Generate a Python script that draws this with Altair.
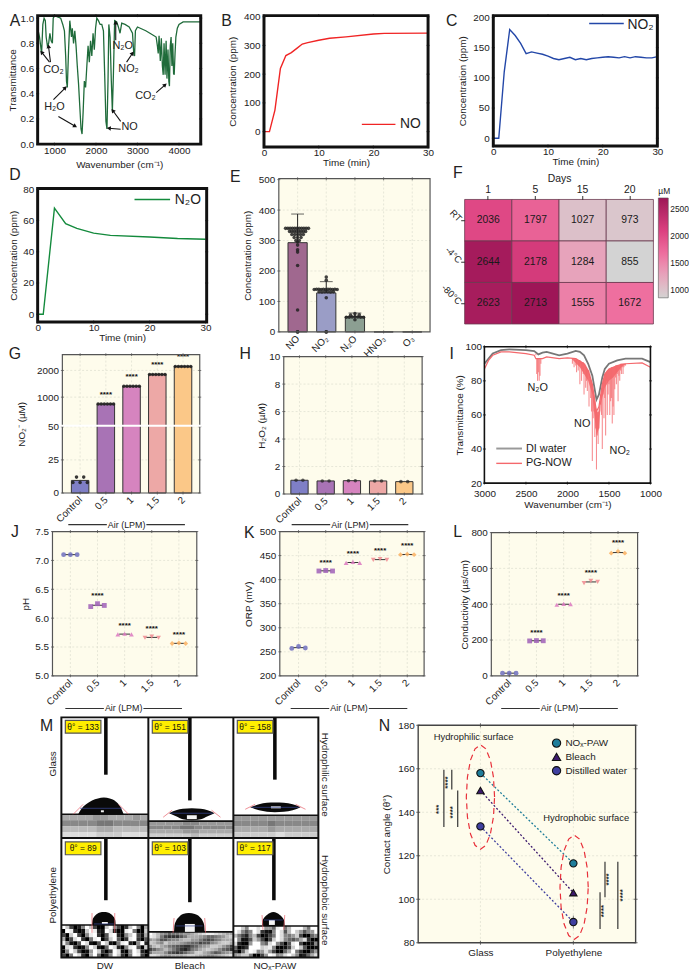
import altair as alt

W, H = 689, 972
FONT = "Liberation Sans"
INK = "#222222"
CREAM = "#FEFCEC"
GRID = "#DCDDCF"
CAT = ["#7F7FC6", "#A873B5", "#D684BF", "#EDA8A6", "#FBC888"]
DARK = ["#6F6FBE", "#A060B8", "#DC78C0", "#F08A90", "#FBB060"]
SHAPES = ["circle", "square", "triangle-up", "triangle-down", "diamond"]

# ---- A spectrum
a_wn = [595,640,690,720,750,780,800,830,860,890,920,950,970,1000,1150,1200,1240,1270,1290,1310,1340,1370,1410,1430,1460,1490,1520,1550,1580,1610,1640,1665,1690,1720,1750,1780,1810,1840,1870,1900,1930,1960,1990,2020,2060,2100,2140,2180,2210,2240,2265,2290,2310,2340,2370,2395,2420,2450,2500,2540,2580,2620,2700,2800,2880,2910,2930,2950,3000,3200,3350,3450,3480,3500,3520,3550,3575,3600,3620,3640,3665,3690,3710,3735,3755,3770,3790,3810,3830,3850,3870,3885,3905,3925,3960,4000,4100,4300,4524]
a_tr = [.92,.85,.72,.95,1.0,.98,.85,.78,.80,.88,.82,.80,1.0,1.02,1.0,.95,.90,.70,.50,.45,.75,.98,.85,.92,.80,.90,.78,.62,.48,.30,.12,.08,.25,.50,.45,.62,.78,.65,.82,.70,.88,.75,.92,1.0,.98,.95,.95,.90,.55,.18,.12,.50,.95,.85,.50,.26,.55,.98,.97,.93,.88,.96,.95,.93,.88,.72,.70,.90,.93,.90,.87,.85,.78,.72,.86,.66,.84,.62,.55,.80,.55,.82,.52,.75,.50,.46,.78,.85,.62,.80,.56,.55,.72,.85,.92,.95,.97,.97,.97]
# ---- B, C, D time courses
b_t = [0,1,2,3,4,5,6,7,8,10,12,15,20,22,30]
b_no = [0,0,75,220,265,275,290,305,310,318,325,330,340,342,343]
c_t = list(range(31))
c_no2 = [0,0,110,180,170,157,140,143,141,139,136,132,130,132,134,130,132,130,132,133,134,135,134,133,135,133,135,134,133,133,135]
d_t = [0,1,3,5,7,10,13,20,25,30]
d_n2o = [0,0,68,58,55,52,50.5,49.5,48.5,48]
# ---- E
e_names = ["NO", "NO₂", "N₂O", "HNO₃", "O₃"]
e_vals = [293, 128, 50, 0, 0]
e_hi = [387, 165, 62, 0, 0]
e_cols = ["#A0688F", "#9A9DC6", "#8C9F92", "#8C9F92", "#8C9F92"]
e_dx = [-.42,-.34,-.26,-.18,-.1,-.02,.06,.14,.22,.3,.38,-.28,-.2,-.12,-.04,.04,.12,.2,.28,-.2,-.1,0,.1,.2,-.12,0,.12,-.06,.06,0,0,0,0,0,0,0,0,
        -.42,-.34,-.26,-.18,-.1,-.02,.06,.14,.22,.3,.38,-.25,-.15,-.05,.05,.15,.25,0,0,0,0,0,
        -.3,-.2,-.1,0,.1,.2,.3,-.15,0,.15,0]
e_cat = [0]*37 + [1]*22 + [2]*11
e_py = [340,340,340,340,340,340,340,340,340,340,340,330,330,330,330,330,330,330,330,320,320,320,320,320,310,310,310,300,300,295,285,270,262,218,72,0,0,
        139,140,140,139,140,139,140,140,139,140,139,132,131,132,132,131,132,112,170,180,0,0,
        48,48,49,50,49,48,48,55,60,56,40]
# ---- F
f_days = ["1", "5", "15", "20"]
f_rows = ["RT", "-4°C", "-80°C"]
f_vals = [[2036,1797,1027,973],[2644,2178,1284,855],[2623,2713,1555,1672]]
# ---- G
g_vals = [9.5, 780, 1407, 1850, 2150]
g_dot_x = [-.28,0,.28,-.14,.14]+[-.3,-.18,-.06,.06,.18,.3]*4
g_dot_c = [0]*5+[1]*6+[2]*6+[3]*6+[4]*6
g_dot_y = [8,8,8,12,12]+[780]*6+[1407]*6+[1850]*6+[2150]*6
# ---- H
h_vals = [1.0,.95,.97,.95,.9]
# ---- J K L
j_vals = [[7.1,7.1,7.1],[6.2,6.25,6.22],[5.72,5.73,5.72],[5.66,5.68,5.66],[5.56,5.57,5.56]]
k_vals = [[257,261,258],[418,419,418],[435,437,435],[441,443,441],[452,453,452]]
l_vals = [[15,15,15],[195,197,196],[397,402,400],[518,530,525],[685,695,685]]
# ---- I
i_di_wn = [3000,2950,2900,2800,2700,2500,2400,2350,2300,2250,2100,2000,1900,1850,1800,1750,1700,1650,1620,1580,1550,1500,1400,1300,1200,1100,1000]
i_di = [90,93,96,98,98.5,98,97.5,95.5,96.5,97,95,96,97.5,97,95,90,83,69,72,82,87,90,92,93,93,93,91]
i_pg_wn = [3000,2950,2900,2800,2700,2500,2400,2380,2300,2250,2100,2000,1900,1800,1750,1700,1650,1620,1580,1550,1500,1400,1300,1100,1000]
i_pg = [87,92,95,97,97,96,95,93,93,94,93,93.5,93,90,86,78,62,65,78,84,87,89,90,90.5,88]
i_fill_wn = [1950,1850,1800,1750,1700,1680,1650,1620,1600,1570,1550,1500,1450,1400,1350,1300]
i_fill_top = [93,92,90,86,78,72,62,62,70,80,84,87,88,89,90,90]
i_fill_low = [93,88,84,80,72,62,48,52,66,72,76,80,82,85,88,90]
i_sp_wn = [2380,2370,2360,2350,2340,2330,2320,2310,1950,1940,1930,1920,1910,1900,1890,1880,1870,1860,1850,1840,1830,1820,1810,1800,1790,1780,1770,1760,1750,1740,1730,1720,1710,1700,1690,1680,1670,1660,1650,1640,1630,1620,1610,1600,1590,1580,1570,1560,1550,1540,1530,1520,1510,1500,1490,1480,1470,1460,1450,1440,1430,1420,1410,1400,1390,1380,1370,1360,1350,1340,1330,1320,1310,1300]
i_sp_lo = [96,84,80,85,80,83,90,93,93,90,93,88,92,89,85,92,86,89,78,90,80,87,84,72,88,76,80,74,85,65,82,70,62,33,58,62,47,52,28,48,43,52,62,66,60,40,72,58,70,48,80,60,72,78,60,68,70,55,65,60,75,82,78,84,68,83,80,86,84,88,84,88,89,89]
i_sp_top = [95,93,93,93,93,93,93,93,93,93,93,93,93,93,93,92,92,92,92,91,91,91,91,90,90,89,88,87,86,86,84,82,80,78,74,72,68,64,62,61,60,65,68,72,74,78,80,81,84,84,85,86,86,87,87,87,88,88,88,88,88,89,89,89,89,89,89,90,90,90,90,90,90,90]
# ---- M (positions in image units)
m_x0 = [0, 88, 174]
m_x1 = [88, 174, 260]
m_sub_top = [98, 105, 99, 210, 217, 211]
m_needle_x = [45, 130, 216, 45, 130, 215]
m_needle_end = [58, 84, 63, 185, 187, 185]
m_angles = ["θ° = 133", "θ° = 151", "θ° = 158", "θ° = 89", "θ° = 103", "θ° = 117"]
m_drop_x = [[17,20,25,31,37,43,49,55,60,63],[109,116,123,132,141,148,155],[191,200,208,216,225,234,242],
            [31,31.5,33,36,39,43,47,50,53,54.5,55],[114,114.5,116,119,123,129,135,140,143,144.5,145],[203,203.5,205,208,211,214.5,218,221,224,225.5,226]]
m_drop_top = [[98,93,88,84,82,81,82,85,91,98],[97,94,92.5,92,92.5,94,97],[91,88,86.5,86,86.5,88,91],
              [210,205,202,199,197.5,197,197.5,199,202,205,210],[217,210,206,202,199,198,199,202,206,210,217],[211,206,203,200,198,197,198,200,203,206,211]]
m_drop_bot = [[98]*10,[97,100,103,104,103,100,97],[91,94,95.5,96,95.5,94,91],[210]*11,[217]*11,[211]*11]
m_spot = [(40,43,94,96),(127,137,99,103),(212,222,90,92),(41,47,207,209),(125,135,209,217),(210,216,205,210)]
m_base = [92, 97, 91, 209, 211, 205]
m_red_x = [[12,68],[103,161],[186,247],[31,54],[114,145],[203,226]]
m_red_x2 = [[22,58],[112,152],[196,237],[31,54],[113,146],[204,225]]
m_red_y = [[98,98],[101,101],[93,93],[198,198],[203,203],[200,200]]
m_red_y2 = [[88,88],[94,94],[88,88],[218,218],[218,218],[215,215]]
m_glass = [["aaaa99aaa9a","8888778888","bbbbaabbbb","ddddcccddd"],
           ["9999889999","88887788888","aaaa99aaaa","cccccbcccc"],
           ["9999999999","8888788888","aaaa9aaaaa","cccccdcccc"]]
m_poly = [["fc4028fc400cf8403cf80a","0fe201cfe21fd200ef700c","40cf408ef305ef208cf41a","a04df307ef04cf503ef305","e8105fd105fc107ef208f2","0de3018fc106fd208ef50c","08fc4019fc304fd108fd20","407fd30af6028fc307fe40"],
           ["fdb98677899abcdeedcbaa","edb7433357aaa9866789bc","9a855788abb99754578aaa","cb98caaa9876645589bcca","8bca97654335689accb974","4689b97532478abcba8653","7aaa85434689cca975689a","ddca99aaabccba9889abcd"],
           ["ffc8ffdf996ef7bfffb7ff","fd858fd3118fd5bfc9589f","b7428b40147fd879c40068","f8115c9404cfd8657ad300","d2009ff86df8405ef40018","6013fffcde80014cfc5001","306cfe89d94006af730059","9acc70049fe89dfc8126ad"]]
# ---- N
n_x = [0, 1]
n_paw = [158, 116.5]
n_bleach = [150, 103]
n_dw = [133.5, 89.5]
n_el1_x = [.152,.14,.107,.058,0,-.058,-.107,-.14,-.152,-.14,-.107,-.058,0,.058,.107,.14,.152]
n_el1_y = [147,156.2,164,169.2,171,169.2,164,156.2,147,137.8,130,124.8,123,124.8,130,137.8,147]
n_el2_x = [1.16,1.148,1.115,1.066,1.008,.95,.901,.868,.856,.868,.901,.95,1.008,1.066,1.115,1.148,1.16]
n_el2_y = [105.5,114.7,122.5,127.7,129.5,127.7,122.5,114.7,105.5,96.3,88.5,83.3,81.5,83.3,88.5,96.3,105.5]


def rec(**cols):
    keys = list(cols)
    return alt.Data(values=[dict(zip(keys, row)) for row in zip(*cols.values())])


class Panel:
    def __init__(self, x0, x1, y0, y1, dx, dy, noaxis=False):
        self.px = (x0 - 8, x1 - 8, y0 - 8, y1 - 8)
        self.dx, self.dy = dx, dy
        self.noaxis = noaxis
        self.sx = alt.Scale(domain=dx, range=[x0 - 8, x1 - 8], nice=False, zero=False)
        self.sy = alt.Scale(domain=dy, range=[y1 - 8, y0 - 8], nice=False, zero=False)
        self.layers = []

    def enc(self, x="x", y="y", x2=None, y2=None, xaxis=None, yaxis=None, **kw):
        xk = dict(scale=self.sx)
        yk = dict(scale=self.sy)
        if self.noaxis:
            xk["axis"] = None
            yk["axis"] = None
        if xaxis is not None:
            xk["axis"] = xaxis
        if yaxis is not None:
            yk["axis"] = yaxis
        e = dict(x=alt.X(f"{x}:Q", **xk), y=alt.Y(f"{y}:Q", **yk))
        if x2:
            e["x2"] = alt.X2(x2)
        if y2:
            e["y2"] = alt.Y2(y2)
        e.update(kw)
        return e

    def add(self, mark, data, **kw):
        self.layers.append(getattr(alt.Chart(data), "mark_" + mark[0])(**mark[1]).encode(**self.enc(**kw)))

    def xa(self, title=None, values=None, expr=None, angle=0, pad=3, tpad=4, fmt="d", size=10):
        kw = dict(orient="bottom", offset=self.px[3] - H, values=values, ticks=False, format=fmt,
                  domain=False, grid=False, labelPadding=pad, labelColor=INK, titleColor=INK, labelFontSize=size, titleFontSize=size,
                  titleFontWeight="normal", titlePadding=tpad, labelFlush=False, labelOverlap=False, labelAngle=angle, title=title or "")
        if expr:
            kw["labelExpr"] = expr
        if angle:
            kw["labelAlign"] = "right"
            kw["labelBaseline"] = "middle"
        return alt.Axis(**kw)

    def ya(self, title=None, values=None, pad=3, tpad=4, fmt="d", size=10):
        return alt.Axis(orient="left", offset=-self.px[0], values=values, ticks=False, domain=False, grid=False, labelPadding=pad, format=fmt,
                        labelColor=INK, titleColor=INK, labelFontSize=size, titleFontSize=size, titleFontWeight="normal", titlePadding=tpad,
                        title=title, labelFlush=False, labelOverlap=False)

    def back(self, fill, xaxis=None, yaxis=None):
        self.add(("rect", dict(fill=fill)), rec(x=[self.dx[0]], x2=[self.dx[-1]], y=[self.dy[0]], y2=[self.dy[-1]]),
                 x2="x2", y2="y2", xaxis=xaxis, yaxis=yaxis)

    def grid(self, xs, ys):
        self.add(("rule", dict(color=GRID, strokeWidth=.7, strokeDash=[2, 2])), rec(x=xs, y=[self.dy[0]] * len(xs), y2=[self.dy[-1]] * len(xs)), y2="y2")
        self.add(("rule", dict(color=GRID, strokeWidth=.7, strokeDash=[2, 2])), rec(y=ys, x=[self.dx[0]] * len(ys), x2=[self.dx[-1]] * len(ys)), x2="x2")

    def ticks(self, xs, ys, color="#222222", size=5, width=1.2, top=True, right=True):
        lo_x, hi_x, lo_y, hi_y = self.dx[0], self.dx[-1], self.dy[0], self.dy[-1]
        for yy in ([lo_y, hi_y] if top else [lo_y]):
            self.add(("tick", dict(orient="vertical", size=size, thickness=width, color=color)), rec(x=xs, y=[yy] * len(xs)))
        for xx in ([lo_x, hi_x] if right else [lo_x]):
            self.add(("tick", dict(orient="horizontal", size=size, thickness=width, color=color)), rec(y=ys, x=[xx] * len(ys)))

    def frame(self, color="#111111", width=3):
        self.add(("rect", dict(fillOpacity=0, stroke=color, strokeWidth=width)), rec(x=[self.dx[0]], x2=[self.dx[-1]], y=[self.dy[0]], y2=[self.dy[-1]]), x2="x2", y2="y2")

    def chart(self):
        return alt.layer(*self.layers)


page = []
ONE = alt.Data(values=[{"a": 1}])


def txt(s, x, y, size=10, angle=0, color=INK, weight="normal", align="center"):
    page.append(alt.Chart(ONE).mark_text(text=s, fontSize=size, angle=angle % 360, color=color, fontWeight=weight, align=align, baseline="middle")
                .encode(x=alt.value(x - 8), y=alt.value(y - 8)))


def seg(x0, y0, x1, y1, color="#111111", width=1.0):
    page.append(alt.Chart(ONE).mark_rule(color=color, strokeWidth=width)
                .encode(x=alt.value(x0 - 8), x2=alt.value(x1 - 8), y=alt.value(y0 - 8), y2=alt.value(y1 - 8)))


def arrow(x0, y0, x1, y1, angle):
    seg(x0, y0, x1, y1, width=1.1)
    page.append(alt.Chart(ONE).mark_point(shape="triangle-up", filled=True, color="#111111", size=22, angle=angle % 360, opacity=1)
                .encode(x=alt.value(x1 - 8), y=alt.value(y1 - 8)))


def air(x0, x1, y):
    mid = (x0 + x1) / 2
    seg(x0, y, mid - 20, y, color="#333333", width=1.2)
    seg(mid + 20, y, x1, y, color="#333333", width=1.2)
    txt("Air (LPM)", mid, y, 9)


panels = []
AIR_EXPR = "['Control','0.5','1','1.5','2'][datum.value]"

# ===== A
a = Panel(38, 203, 10, 140, [595, 4524], [0, 1.02])
a.back("white", a.xa("Wavenumber (cm⁻¹)", [1000, 2000, 3000, 4000], pad=1, tpad=5), a.ya("Transmittance", [0, .2, .4, .6, .8, 1], fmt=".1f", pad=4, tpad=2))
a.add(("line", dict(color="#1F6B3A", strokeWidth=1.3, clip=True)), rec(x=a_wn, y=a_tr))
a.ticks([1000, 2000, 3000, 4000], [0, .2, .4, .6, .8, 1], size=3)
a.frame()
panels.append(a)
for s, x, y in [("CO₂", 54, 65), ("H₂O", 55, 102), ("NO", 131, 123), ("N₂O", 124, 41), ("NO₂", 130, 64), ("CO₂", 147, 91)]:
    txt(s, x, y, 11)
arrow(50, 57, 42, 47, -39)
arrow(51, 57, 49, 41, -7)
arrow(54, 95, 66, 83, 45)
arrow(59, 112, 76, 122, 120)
arrow(122, 125, 110, 124, -85)
arrow(122, 117, 114, 106, -36)
arrow(117, 35, 117, 17, 0)
arrow(128, 57, 134, 48, 34)
arrow(158, 88, 167, 80, 48)

# ===== B
b = Panel(267, 433, 10, 143, [0, 30], [-54, 404])
b.back("white", b.xa("Time (min)", [0, 10, 20, 30], pad=1, tpad=0), b.ya("Concentration (ppm)", [0, 100, 200, 300, 400], pad=4, tpad=6))
b.add(("line", dict(color="#F02424", strokeWidth=1.4)), rec(x=b_t, y=b_no))
b.ticks([0, 10, 20, 30], [0, 100, 200, 300, 400], size=3)
b.frame()
panels.append(b)
seg(366, 120, 400, 120, "#F02424", 1.4)
txt("NO", 415, 120, 14)

# ===== C
c = Panel(499, 665, 10, 142, [0, 30], [-13, 203])
c.back("white", c.xa("Time (min)", [0, 10, 20, 30], pad=1, tpad=0), c.ya("Concentration (ppm)", [0, 50, 100, 150, 200], pad=4, tpad=5))
c.add(("line", dict(color="#2347A8", strokeWidth=1.4)), rec(x=c_t, y=c_no2))
c.ticks([0, 10, 20, 30], [0, 50, 100, 150, 200], size=3)
c.frame()
panels.append(c)
seg(596, 18, 631, 18, "#2347A8", 1.4)
txt("NO₂", 648, 20, 14)

# ===== D
d = Panel(38, 209, 185, 320, [0, 30.2], [-5, 80.5])
d.back("white", d.xa("Time (min)", [0, 10, 20, 30], pad=1, tpad=0), d.ya("Concentration (ppm)", [0, 20, 40, 60, 80], pad=4, tpad=4))
d.add(("line", dict(color="#138A3C", strokeWidth=1.4)), rec(x=d_t, y=d_n2o))
d.ticks([0, 10, 20, 30], [0, 20, 40, 60, 80], size=3)
d.frame()
panels.append(d)
seg(136, 196, 172, 196, "#138A3C", 1.4)
txt("N₂O", 190, 197, 14)

# ===== E
e = Panel(282, 435, 175, 330, [-.655, 4.62], [0, 503])
e_expr = "['NO','NO₂','N₂O','HNO₃','O₃'][datum.value]"
e.back(CREAM, e.xa(None, [0, 1, 2, 3, 4], expr=e_expr, angle=-45, pad=5), e.ya("Concentration (ppm)", [0, 100, 200, 300, 400, 500], pad=4, tpad=6))
e.grid([0, 1, 2, 3, 4], [100, 200, 300, 400])
e.add(("rect", dict(stroke="#333333", strokeWidth=1)), rec(x=[i - .335 for i in range(5)], x2=[i + .335 for i in range(5)], y=[0] * 5, y2=e_vals, c=e_cols),
      x2="x2", y2="y2", color=alt.Color("c:N", scale=None))
e.add(("rule", dict(color="#222222", strokeWidth=1)), rec(x=[0, 1, 2], y=e_vals[:3], y2=e_hi[:3]), y2="y2")
e.add(("tick", dict(orient="horizontal", size=13, thickness=1, color="#222222")), rec(x=[0, 1, 2], y=e_hi[:3]))
e.add(("circle", dict(color="#222222", size=13, opacity=.85)), rec(x=[c_ + d_ for c_, d_ in zip(e_cat, e_dx)], y=e_py))
e.ticks([0, 1, 2, 3, 4], [0, 100, 200, 300, 400, 500], color="#444444", size=3, width=1, right=False)
e.frame("#555555", 1.2)
panels.append(e)

# ===== F
sfx = alt.Scale(domain=f_days, range=[462, 653], paddingInner=0, paddingOuter=0)
sfy = alt.Scale(domain=f_rows, range=[188, 314], paddingInner=0, paddingOuter=0)
f_rec = alt.Data(values=[{"day": dy_, "row": r_, "v": f_vals[j][i]} for j, r_ in enumerate(f_rows) for i, dy_ in enumerate(f_days)])
f_fx = alt.Axis(orient="top", offset=-188, ticks=True, tickSize=4, tickColor="#333333", domain=False, labelAngle=0, labelPadding=1, labelFontSize=10.5, labelColor=INK,
                title="Days", titleFontSize=10.5, titleFontWeight="normal", titleColor=INK, titlePadding=1, grid=False)
f_fy = alt.Axis(orient="left", offset=-462, ticks=True, tickSize=4, tickColor="#333333", domain=False, labelAngle=45, labelPadding=1, labelFontSize=9.5, labelColor=INK,
                title="", grid=False, labelAlign="right", labelBaseline="middle")
f_c = alt.Scale(domain=[855, 1280, 1672, 2100, 2713], range=["#D3D3D3", "#E7A3BB", "#EE6F9F", "#DC4080", "#9E1657"])
f_l = alt.Legend(orient="none", legendX=658, legendY=175, gradientLength=101, gradientThickness=10, title="µM", titleFontSize=8.5, titleFontWeight="normal", titlePadding=3,
                 values=[1000, 1500, 2000, 2500], format="d", labelFontSize=8.5, labelColor=INK, titleColor=INK, gradientStrokeColor="#555555", gradientStrokeWidth=.6)
f_base = alt.Chart(f_rec).mark_rect(stroke="#6B3A50", strokeWidth=.8).encode(
    x=alt.X("day:N", scale=sfx, axis=f_fx, sort=f_days),
    y=alt.Y("row:N", scale=sfy, axis=f_fy, sort=f_rows),
    color=alt.Color("v:Q", scale=f_c, legend=f_l))
f_text = alt.Chart(f_rec).mark_text(fontSize=10.5, color="#1a1a1a").encode(
    x=alt.X("day:N", scale=sfx, sort=f_days),
    y=alt.Y("row:N", scale=sfy, sort=f_rows),
    text="v:Q")
f_chart = alt.layer(f_base, f_text)

# ===== G
sg = Panel(63, 202, 353, 493, [-.69, 4.65], [0, 2600])
sg.sy = alt.Scale(domain=[0, 50, 1000, 2000, 2600], range=[485, 418, 388, 361, 345], nice=False, zero=False)
sg_x = sg.xa(None, [0, 1, 2, 3, 4], expr=AIR_EXPR, angle=-45, pad=5)
sg.back(CREAM, sg_x, sg.ya("NO₂⁻ (µM)", [0, 25, 50, 1000, 2000], pad=4, tpad=10))
sg.grid([0, 1, 2, 3, 4], [25, 50, 1000, 2000])
sg.add(("rect", dict(stroke="#333333", strokeWidth=1)), rec(x=[i - .34 for i in range(5)], x2=[i + .34 for i in range(5)], y=[0] * 5, y2=g_vals, c=CAT),
       x2="x2", y2="y2", color=alt.Color("c:N", scale=None))
sg.add(("circle", dict(color="#222222", size=13, opacity=.9)), rec(x=[c_ + d_ for c_, d_ in zip(g_dot_c, g_dot_x)], y=g_dot_y))
sg.add(("text", dict(text="****", fontSize=8, fontWeight="bold", dy=-6, color="#111111")), rec(x=[1, 2, 3, 4], y=[880, 1530, 1980, 2300]))
sg.ticks([0, 1, 2, 3, 4], [0, 25, 50, 1000, 2000], color="#444444", size=3, width=1)
sg.frame("#555555", 1.2)
sg.add(("rect", dict(fill="white")), rec(x=[sg.dx[0] - .05], x2=[sg.dx[1] + .05], y=[53], y2=[115]), x2="x2", y2="y2")
panels.append(sg)
air(69, 187, 525)

# ===== H
h = Panel(287, 427, 355, 494, [-.6, 4.68], [0, 10])
h.back(CREAM, h.xa(None, [0, 1, 2, 3, 4], expr=AIR_EXPR, angle=-45, pad=5), h.ya("H₂O₂ (µM)", [0, 2, 4, 6, 8, 10], pad=4, tpad=2))
h.grid([0, 1, 2, 3, 4], [2, 4, 6, 8])
h.add(("rect", dict(stroke="#333333", strokeWidth=1)), rec(x=[i - .33 for i in range(5)], x2=[i + .33 for i in range(5)], y=[0] * 5, y2=h_vals, c=CAT),
      x2="x2", y2="y2", color=alt.Color("c:N", scale=None))
h.add(("circle", dict(color="#222222", size=13)), rec(x=[i + s_ for i in range(5) for s_ in (-.13, .13)], y=[v for v in h_vals for _ in (0, 1)]))
h.ticks([0, 1, 2, 3, 4], [0, 2, 4, 6, 8, 10], color="#444444", size=3, width=1)
h.frame("#555555", 1.2)
panels.append(h)
air(295, 413, 525)

# ===== I
ip = Panel(490, 658, 345, 483, [3000, 1000], [20, 100])
ip.back("white", ip.xa("Wavenumber (cm⁻¹)", [3000, 2500, 2000, 1500, 1000], pad=6, tpad=1, size=10), ip.ya("Transmittance (%)", [20, 40, 60, 80, 100], pad=3, tpad=0))
ip.add(("line", dict(color="#777777", strokeWidth=1.8)), rec(x=i_di_wn, y=i_di))
ip.add(("area", dict(color="#F4686C", opacity=.9)), rec(x=i_fill_wn, y=i_fill_top, y2=i_fill_low), y2="y2")
ip.add(("rule", dict(color="#F4686C", strokeWidth=1.1, opacity=.75)), rec(x=i_sp_wn, y=i_sp_top, y2=i_sp_lo), y2="y2")
ip.add(("line", dict(color="#F4686C", strokeWidth=1.2)), rec(x=i_pg_wn, y=i_pg))
ip.ticks([3000, 2500, 2000, 1500, 1000], [20, 40, 60, 80, 100], size=3)
ip.frame("#111111", 1.6)
panels.append(ip)
txt("N₂O", 544, 387, 11)
txt("NO", 589, 423, 11)
txt("NO₂", 627, 451, 11)
seg(502, 448, 528, 448, "#999999", 2)
seg(502, 463, 528, 463, "#F4686C", 1.4)
txt("DI water", 532, 449, 11, align="left")
txt("PG-NOW", 532, 463, 11, align="left")


# ===== J K L
def scatter_panel(x0, x1, y0, y1, dx, dy, vals, yvals, ytitle, tpad, fmt="d"):
    p = Panel(x0, x1, y0, y1, dx, dy)
    p.back(CREAM, p.xa(None, [0, 1, 2, 3, 4], expr=AIR_EXPR, angle=-45, pad=5), p.ya(ytitle, yvals, pad=4, tpad=tpad, fmt=fmt))
    p.grid([0, 1, 2, 3, 4], yvals[1:-1])
    for i, v in enumerate(vals):
        m_ = sum(v) / 3
        p.add(("rule", dict(color="#333333", strokeWidth=1)), rec(x=[i - .2], x2=[i + .2], y=[m_]), x2="x2")
        p.add(("point", dict(shape=SHAPES[i], filled=True, color=DARK[i], size=24, opacity=.85)), rec(x=[i - .25, i, i + .25], y=v))
    p.add(("text", dict(text="****", fontSize=8, fontWeight="bold", color="#111111", dy=-8)), rec(x=[1, 2, 3, 4], y=[max(v) for v in vals[1:]]))
    p.ticks([0, 1, 2, 3, 4], yvals, color="#444444", size=3, width=1)
    p.frame("#555555", 1.2)
    return p


panels.append(scatter_panel(53, 199, 532, 678, [-.66, 4.66], [5, 7.5], j_vals, [5, 5.5, 6, 6.5, 7, 7.5], "pH", 4, fmt=".1f"))
air(66, 184, 711)
panels.append(scatter_panel(283, 429, 532, 678, [-.69, 4.62], [200, 500], k_vals, [200, 250, 300, 350, 400, 450, 500], "ORP (mV)", 6))
air(294, 412, 711)
panels.append(scatter_panel(497, 645, 533, 678, [-.66, 4.72], [0, 800], l_vals, [0, 200, 400, 600, 800], "Conductivity (µs/cm)", 1))
air(507, 625, 711)

# ===== M
m = Panel(62, 322, 720, 963, [0, 260], [243, 0], noaxis=True)
m.back("white")
for idx in range(6):
    col, row = idx % 3, idx // 3
    xa_, xb = m_x0[col], m_x1[col]
    yb = 122 if row == 0 else 243
    top = m_sub_top[idx]
    rows = m_glass[col] if row == 0 else m_poly[col]
    cx, cy, cx2, cy2, cc = [], [], [], [], []
    for j, r_ in enumerate(rows):
        n_ = len(r_)
        for i, ch in enumerate(r_):
            cx.append(xa_ + (xb - xa_) * i / n_)
            cx2.append(xa_ + (xb - xa_) * (i + 1) / n_)
            cy.append(top + (yb - top) * j / len(rows))
            cy2.append(top + (yb - top) * (j + 1) / len(rows))
            cc.append("#" + ch * 3)
    m.add(("rect", dict()), rec(x=cx, x2=cx2, y=cy, y2=cy2, c=cc), x2="x2", y2="y2", color=alt.Color("c:N", scale=None))
    m.add(("rule", dict(color="#111111", strokeWidth=1.6)), rec(x=[xa_], x2=[xb], y=[top]), x2="x2")
    ny0 = 0 if row == 0 else 122
    m.add(("rect", dict(fill="#0a0a0a")), rec(x=[m_needle_x[idx] - 1.8], x2=[m_needle_x[idx] + 1.8], y=[ny0], y2=[m_needle_end[idx]]), x2="x2", y2="y2")
    m.add(("area", dict(color="#0a0a0a", interpolate="monotone")), rec(x=m_drop_x[idx], y=m_drop_top[idx], y2=m_drop_bot[idx]), y2="y2")
    sp = m_spot[idx]
    m.add(("rect", dict(fill="#f4f4f4")), rec(x=[sp[0]], x2=[sp[1]], y=[sp[2]], y2=[sp[3]]), x2="x2", y2="y2")
    m.add(("rule", dict(color="#E8606A", strokeWidth=.7)), rec(x=m_red_x[idx], x2=m_red_x2[idx], y=m_red_y[idx], y2=m_red_y2[idx]), x2="x2", y2="y2")
    m.add(("rule", dict(color="#3A4A9A", strokeWidth=.7)), rec(x=[m_drop_x[idx][0] + 2], x2=[m_drop_x[idx][-1] - 2], y=[m_base[idx]]), x2="x2")
    lx = xa_ + 4
    ly = (3 if row == 0 else 126)
    m.add(("rect", dict(fill="#FFEE00", stroke="#555555", strokeWidth=1.2)), rec(x=[lx], x2=[lx + 36], y=[ly], y2=[ly + 13]), x2="x2", y2="y2")
    m.add(("text", dict(text=m_angles[idx], fontSize=8.5, color="#111111")), rec(x=[lx + 18], y=[ly + 6.5]))
m.add(("rule", dict(color="#111111", strokeWidth=2)), rec(x=[88, 174], y=[0, 0], y2=[243, 243]), y2="y2")
m.add(("rule", dict(color="#111111", strokeWidth=2)), rec(x=[0], x2=[260], y=[122]), x2="x2")
m.frame("#111111", 2)
panels.append(m)
txt("DW", 106, 972, 10)
txt("Bleach", 192, 972, 10)
txt("NOₓ-PAW", 278, 972, 10)
txt("Glass", 54, 767, 10, angle=-90)
txt("Polyethylene", 54, 900, 10, angle=-90)
txt("Hydrophilic surface", 329, 778, 10, angle=90)
txt("Hydrophobic surface", 329, 905, 10, angle=90)

# ===== N
n = Panel(423, 643, 728, 948, [-.67, 1.67], [80, 180])
n.back(CREAM, n.xa(None, [0, 1], expr="['Glass','Polyethylene'][datum.value]", pad=5, size=10), n.ya("Contact angle (θ°)", [80, 100, 120, 140, 160, 180], pad=4, tpad=6))
n.grid([0, 1], [100, 120, 140, 160])
for series, col in [(n_paw, "#1E7D9A"), (n_bleach, "#3D1A6E"), (n_dw, "#3F3F9F")]:
    n.add(("line", dict(color=col, strokeWidth=1.3, strokeDash=[2, 2])), rec(x=n_x, y=series))
n.add(("line", dict(color="#E8303A", strokeWidth=1.2, strokeDash=[6, 4])), rec(x=n_el1_x, y=n_el1_y, o=list(range(17))), order=alt.Order("o:Q"))
n.add(("line", dict(color="#E8303A", strokeWidth=1.2, strokeDash=[6, 4])), rec(x=n_el2_x, y=n_el2_y, o=list(range(17))), order=alt.Order("o:Q"))
n.add(("rule", dict(color="#666666", strokeWidth=.8)), rec(x=[1], y=[86.5], y2=[92.5]), y2="y2")
for series, col, sh in [(n_paw, "#1E7D9A", "circle"), (n_bleach, "#3D1A6E", "triangle-up"), (n_dw, "#3F3F9F", "circle")]:
    n.add(("point", dict(shape=sh, filled=True, color=col, stroke="#111111", strokeWidth=1.1, size=55, opacity=1)), rec(x=n_x, y=series))
n.ticks([0, 1], [80, 100, 120, 140, 160, 180], color="#333333", size=4, width=1)
n.frame("#444444", 1.4)
panels.append(n)
txt("Hydrophilic surface", 479, 740, 9.5)
txt("Hydrophobic surface", 593, 822, 9.5)
for y_, col, sh, lab in [(746, "#1E7D9A", "circle", "NOₓ-PAW"), (760, "#3D1A6E", "triangle-up", "Bleach"), (774, "#3F3F9F", "circle", "Distilled water")]:
    page.append(alt.Chart(ONE).mark_point(shape=sh, filled=True, color=col, stroke="#111111", strokeWidth=1.1, size=70, opacity=1)
                .encode(x=alt.value(563 - 8), y=alt.value(y_ - 8)))
    txt(lab, 572, y_, 10, align="left")
for x_, a_, b_ in [(449, 773, 831), (457, 773, 793), (463, 794, 831), (607, 897, 934), (612, 866, 902), (625, 866, 934)]:
    seg(x_, a_, x_, b_, "#333333", 1.2)
for s, x_, y_ in [("***", 444, 813), ("****", 453, 786), ("****", 458, 816), ("****", 611, 916), ("****", 616, 884), ("****", 630, 900)]:
    txt(s, x_, y_, 8, angle=-90, weight="bold")

# ===== panel letters
for s, x_, y_ in [("A", 15, 16), ("B", 229, 16), ("C", 457, 16), ("D", 15, 171), ("E", 238, 173), ("F", 463, 169), ("G", 15, 352), ("H", 248, 352), ("I", 457, 352),
                  ("J", 15, 533), ("K", 252, 534), ("L", 463, 533), ("M", 47, 729), ("N", 389, 729)]:
    txt(s, x_, y_, 16)

charts = [p.chart() for p in panels] + [f_chart]
chart = alt.layer(*charts, *page).resolve_scale(x="independent", y="independent", color="independent").resolve_axis(x="independent", y="independent").properties(
    width=W, height=H, padding=0, autosize=alt.AutoSizeParams(type="none", contains="padding")
).configure(font=FONT).configure_view(stroke=None)
chart.save("out.html", embed_options={"renderer": "svg", "actions": False})
